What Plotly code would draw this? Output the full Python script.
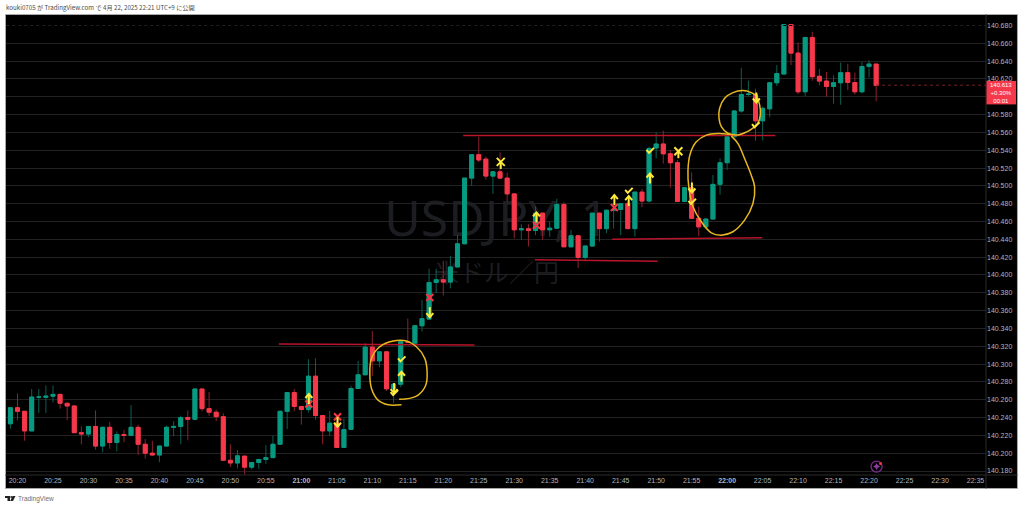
import plotly.graph_objects as go

# minutes after 20:20 for each candle start at -2 (20:18)
first_minute = -2
opens = [140.197,140.233,140.251,140.247,140.225,140.263,140.2627,140.264,140.266,140.256,140.253,140.223,140.2215,140.23,140.208,140.229,140.212,140.221,140.22,140.229,140.21,140.2,140.198,140.208,140.229,140.23,140.24,140.238,140.272,140.25,140.246,140.241,140.192,140.189,
 140.1967,140.1843,140.1895,140.193,140.195,140.21,140.247,140.268,140.2524,140.249,140.2864,140.2423,140.225,140.2337,140.2064,140.2266,140.2726,140.288,140.319,140.3036,140.3137,140.2722,140.2774,140.325,140.3234,140.343,
 140.3505,140.3916,140.3946,140.392,140.409,140.435,140.5087,140.535,140.53,140.511,140.5158,140.5087,140.491,140.4507,140.4518,140.45,140.4694,140.4507,140.4525,140.479,140.4316,140.444,140.4197,140.4325,140.4694,140.452,140.4727,140.4735,140.48,140.452,140.493,140.483,
 140.5425,140.547,140.536,140.526,140.4826,140.498,140.4636,140.454,140.4628,140.5017,140.526,140.555,140.584,140.6026,140.6025,140.573,140.5865,140.6157,140.6255,140.681,140.649,140.6056,140.6666,140.623,140.6176,140.6116,140.6157,140.627,140.616,140.6056,140.634,140.6367]
closes = [140.233,140.251,140.247,140.225,140.263,140.263,140.264,140.266,140.256,140.253,140.223,140.2215,140.23,140.208,140.229,140.212,140.221,140.22,140.229,140.21,140.2,140.198,140.208,140.229,140.23,140.24,140.238,140.272,140.25,140.246,140.241,140.192,140.189,140.197,
 140.1843,140.1895,140.193,140.195,140.21,140.247,140.268,140.2524,140.249,140.2864,140.2423,140.225,140.2337,140.2064,140.2266,140.2726,140.288,140.319,140.3036,140.3137,140.2722,140.2774,140.325,140.3245,140.343,140.351,
 140.3916,140.3946,140.392,140.409,140.435,140.5087,140.535,140.529,140.511,140.5158,140.5087,140.491,140.4507,140.4518,140.45,140.4694,140.4507,140.4525,140.479,140.4316,140.444,140.4197,140.4325,140.4694,140.452,140.4727,140.4735,140.48,140.452,140.493,140.483,140.542,
 140.547,140.536,140.526,140.4826,140.498,140.4636,140.454,140.4628,140.5017,140.526,140.555,140.584,140.6026,140.603,140.573,140.587,140.6157,140.626,140.681,140.649,140.6056,140.6666,140.6225,140.6176,140.6116,140.6157,140.627,140.616,140.6056,140.634,140.6367,140.6127]
highs = [140.233,140.251,140.267,140.247,140.272,140.272,140.276,140.276,140.266,140.256,140.253,140.23,140.23,140.248,140.23,140.235,140.2245,140.226,140.254,140.232,140.216,140.214,140.208,140.231,140.236,140.242,140.248,140.272,140.272,140.2686,140.249,140.245,140.21,140.2035,
 140.1967,140.1895,140.193,140.209,140.2195,140.247,140.268,140.272,140.2524,140.3055,140.3066,140.2423,140.2475,140.236,140.239,140.2756,140.3036,140.3234,140.337,140.3137,140.3137,140.2774,140.327,140.351,140.343,140.372,
 140.407,140.407,140.416,140.4215,140.445,140.5087,140.535,140.555,140.533,140.5158,140.5375,140.515,140.491,140.457,140.457,140.477,140.4694,140.46,140.4855,140.4817,140.4507,140.444,140.4325,140.4694,140.4694,140.4727,140.478,140.48,140.4825,140.493,140.4967,140.544,
 140.56,140.562,140.54,140.529,140.498,140.515,140.4766,140.4628,140.512,140.531,140.556,140.585,140.6325,140.618,140.609,140.589,140.6157,140.6355,140.681,140.681,140.661,140.6666,140.673,140.6314,140.628,140.624,140.6385,140.637,140.627,140.639,140.641,140.6367]
lows = [140.197,140.2275,140.237,140.214,140.225,140.245,140.245,140.257,140.25,140.237,140.223,140.21,140.218,140.204,140.201,140.205,140.202,140.2125,140.22,140.198,140.194,140.197,140.19,140.208,140.219,140.21,140.2145,140.238,140.247,140.242,140.236,140.192,140.1845,140.183,
 140.176,140.1817,140.1824,140.188,140.195,140.21,140.227,140.247,140.232,140.2456,140.2374,140.21,140.2195,140.2064,140.2064,140.2266,140.2726,140.288,140.2868,140.2965,140.27,140.256,140.274,140.324,140.3234,140.3365,
 140.35,140.38,140.377,140.385,140.409,140.4346,140.5,140.5266,140.507,140.491,140.5087,140.4825,140.441,140.4395,140.432,140.4447,140.4395,140.443,140.4525,140.4316,140.4316,140.408,140.417,140.4325,140.4376,140.447,140.452,140.4447,140.452,140.443,140.476,140.4815,
 140.531,140.525,140.498,140.4826,140.4826,140.4636,140.4437,140.452,140.4628,140.49,140.518,140.555,140.582,140.6,140.5507,140.551,140.577,140.612,140.6255,140.6355,140.603,140.6008,140.618,140.6127,140.6,140.592,140.591,140.6075,140.6026,140.604,140.6217,140.595]

tick_minutes = list(range(0, 140, 5))
tick_labels = ["20:20","20:25","20:30","20:35","20:40","20:45","20:50","20:55","<b>21:00</b>","21:05","21:10","21:15","21:20","21:25","21:30","21:35","21:40","21:45","21:50","21:55","<b>22:00</b>","22:05","22:10","22:15","22:20","22:25","22:30","22:35"]

level_a_m = [36.83, 64.4];  level_a_p = [140.3225, 140.3215]
level_b_m = [62.8, 106.8];  level_b_p = [140.5566, 140.5565]
level_c_m = [72.9, 90.2];   level_c_p = [140.417, 140.4155]
level_d_m = [83.8, 104.96]; level_d_p = [140.4402, 140.4417]

ring1_m = [54.11,52.23,50.82,49.88,49.65,49.88,51.06,52.93,54.81,56.22,57.39,57.72,57.54,56.46,55.28,53.78]
ring1_p = [140.2544,140.2544,140.2596,140.2727,140.2896,140.3064,140.3195,140.3258,140.3258,140.3195,140.3064,140.2914,140.2765,140.2652,140.2615,140.2604]
ring2_m = [100.35,98.71,97.07,95.66,94.81,94.48,94.62,95.19,96.36,97.77,99.18,100.82,102.46,103.64,103.87,103.40,102.46,101.53,100.59]
ring2_p = [140.5576,140.5588,140.5569,140.5494,140.5363,140.5176,140.4971,140.4765,140.4597,140.4473,140.4447,140.4485,140.4615,140.4802,140.4989,140.512,140.5307,140.5475,140.5558]
ring3_m = [104.34,103.41,102.23,100.82,99.65,98.94,98.85,99.18,100.11,101.52,102.7,103.63,104.34,104.68,104.58,104.2]
ring3_p = [140.6002,140.6047,140.6069,140.6047,140.5984,140.5872,140.576,140.5665,140.5591,140.5572,140.5603,140.5648,140.5704,140.5797,140.5909,140.6002]

up_m = [41.06,54.11,73.13,84.11,86.13,89.13];  up_p = [140.2608,140.2858,140.4646,140.484,140.4829,140.5083]
down_m = [45.1,53.07,58.1,95.04,104.11];       down_p = [140.2353,140.2731,140.3583,140.4982,140.5992]
check_m = [54.11,86.13,89.13,95.04,104.0,53.07]; check_p = [140.3053,140.4944,140.5393,140.4821,140.5681,140.2675]
yx_m = [68.1,93.13];  yx_p = [140.5269,140.5389]
rx_m = [41.06,45.1,58.1,73.13,84.11]; rx_p = [140.2552,140.2409,140.3748,140.4559,140.4758]

last_price = 140.613
header = "kouki0705 が TradingView.com で 4月 22, 2025 22:21 UTC+9 に公開"

PXM, PXP = 7.1, 892.0
L, R, T, B = 6.0, 986.5, 15.0, 475.5
def px(x): return (x - L) / (R - L)
def py(y): return (B - y) / (B - T)

def glyphs(ms, ps, strokes):
    xs, ys = [], []
    for m, p in zip(ms, ps):
        for stroke in strokes:
            for dx, dy in stroke:
                xs.append(m + dx / PXM); ys.append(p + dy / PXP)
            xs.append(None); ys.append(None)
    return xs, ys

UP = [[(0,-5),(0,4.5)], [(-3.5,1),(0,5),(3.5,1)]]
DOWN = [[(0,5),(0,-4.5)], [(-3.5,-1),(0,-5),(3.5,-1)]]
CHECK = [[(-3.5,1),(-1,-2),(4,3)]]
XS = [[(-3.5,-3.5),(3.5,3.5)], [(-3.5,3.5),(3.5,-3.5)]]
YX = [[(-4,-4),(4,4)], [(-4,4),(4,-4)], [(0,0),(0,-7)]]

minutes = [first_minute + i for i in range(len(opens))]
body_hi = [max(o, c) for o, c in zip(opens, closes)]
body_lo = [min(o, c) for o, c in zip(opens, closes)]
GREEN, RED = "#089981", "#f6384b"

fig = go.Figure()
fig.add_trace(go.Candlestick(x=minutes, open=opens, high=highs, low=lows, close=closes, whiskerwidth=0,
    increasing=dict(line=dict(color="#0b5f52", width=1), fillcolor=GREEN),
    decreasing=dict(line=dict(color="#8d2230", width=1), fillcolor=RED)))
fig.add_trace(go.Candlestick(x=minutes, open=opens, high=body_hi, low=body_lo, close=closes, whiskerwidth=0,
    increasing=dict(line=dict(color=GREEN, width=1), fillcolor=GREEN),
    decreasing=dict(line=dict(color=RED, width=1), fillcolor=RED)))

# dashes over the top grid line
fig.add_trace(go.Scatter(x=[-2, 137], y=[140.68, 140.68], mode="lines", line=dict(color="#000000", width=1, dash="3px,3px")))

for m, p in [(level_a_m, level_a_p), (level_b_m, level_b_p), (level_c_m, level_c_p), (level_d_m, level_d_p)]:
    fig.add_trace(go.Scatter(x=m, y=p, mode="lines", line=dict(color="#b8142a", width=1.5)))
for m, p in [(ring1_m, ring1_p), (ring2_m, ring2_p), (ring3_m, ring3_p)]:
    fig.add_trace(go.Scatter(x=m, y=p, mode="lines", line=dict(color="#e8b820", width=1.5, shape="spline", smoothing=1)))

gx, gy = glyphs(rx_m, rx_p, XS)
fig.add_trace(go.Scatter(x=gx, y=gy, mode="lines", line=dict(color="#f23645", width=2.2)))
for ms, ps, st in [(up_m, up_p, UP), (down_m, down_p, DOWN), (check_m, check_p, CHECK), (yx_m, yx_p, YX)]:
    gx, gy = glyphs(ms, ps, st)
    fig.add_trace(go.Scatter(x=gx, y=gy, mode="lines", line=dict(color="#ffeb3b", width=2)))

# last-price dotted line
fig.add_trace(go.Scatter(x=[minutes[-1], 137], y=[last_price, last_price], mode="lines",
                         line=dict(color="#7a1f2a", width=1, dash="dot")))
# alert icon
fig.add_trace(go.Scatter(x=[121.06], y=[140.185], mode="markers",
                         marker=dict(symbol="circle-open", size=11, color="#7b2a8e", line=dict(width=1.3, color="#7b2a8e"))))
fig.add_trace(go.Scatter(x=[121.06], y=[140.185], mode="markers",
                         marker=dict(symbol="star-diamond", size=5, color="#8e3aa3", line=dict(width=0))))
fig.add_trace(go.Scatter(x=[121.62], y=[140.1885], mode="markers",
                         marker=dict(symbol="circle", size=3, color="#f23645", line=dict(width=0))))

shapes = [
    dict(type="rect", xref="paper", yref="paper", x0=px(5.5), x1=px(1018), y0=py(489), y1=py(14.5),
         fillcolor="#000000", line=dict(color="#a9a9a9", width=1), layer="below"),
    dict(type="line", xref="paper", yref="paper", x0=px(986.5), x1=px(986.5), y0=py(489), y1=py(14.5),
         line=dict(color="#2a2a2a", width=1)),
    dict(type="line", xref="paper", yref="paper", x0=px(5.5), x1=px(1018), y0=py(475.5), y1=py(475.5),
         line=dict(color="#2a2a2a", width=1)),
    dict(type="rect", xref="paper", yref="paper", x0=px(987), x1=px(1016.5), y0=py(104.5), y1=py(81),
         fillcolor="#f6384b", line=dict(width=0)),
    dict(type="rect", xref="x", yref="y", x0=50, x1=85, y0=140.437, y1=140.487, layer="below",
         fillcolor="rgba(0,0,0,0)", line=dict(width=0),
         label=dict(text="USDJPY, 1", textposition="middle center",
                    font=dict(family="Noto Sans", size=50, color="#1b1d21"))),
    dict(type="rect", xref="x", yref="y", x0=55, x1=80, y0=140.38, y1=140.42, layer="below",
         fillcolor="rgba(0,0,0,0)", line=dict(width=0),
         label=dict(text="米ドル／円", textposition="middle center",
                    font=dict(family="Noto Sans CJK JP", size=25, color="#1b1d21"))),
    # TradingView mark
    dict(type="path", xref="paper", yref="paper", line=dict(width=0), fillcolor="#222222",
         path=f"M {px(5)} {py(496.5)} L {px(10)} {py(496.5)} L {px(10)} {py(501.5)} L {px(7.5)} {py(501.5)} L {px(7.5)} {py(498.5)} L {px(5)} {py(498.5)} Z"),
    dict(type="path", xref="paper", yref="paper", line=dict(width=0), fillcolor="#222222",
         path=f"M {px(12.5)} {py(496.5)} L {px(15.5)} {py(496.5)} L {px(13)} {py(501.5)} L {px(10.2)} {py(501.5)} Z"),
    dict(type="circle", xref="paper", yref="paper", line=dict(width=0), fillcolor="#222222",
         x0=px(10.3), x1=px(12.1), y0=py(498.4), y1=py(496.5)),
]

def note(x, y, text, size, color, anchor="left", family="Liberation Sans"):
    return dict(xref="paper", yref="paper", x=px(x), y=py(y), text=text, showarrow=False, xanchor=anchor,
                yanchor="middle", borderpad=0, font=dict(family=family, size=size, color=color))

annotations = [
    note(4.5, 7, header, 6.2, "#4a4a4a", family="Noto Sans CJK JP"),
    note(17, 499.5, "TradingView", 6.5, "#6e6e6e"),
    note(1002, 93, f"{last_price:.3f}<br>+0.30%<br>00:01", 6, "#ffffff", "center"),
]

fig.update_layout(
    width=1024, height=508, autosize=False, showlegend=False, boxgap=0.2,
    margin=dict(l=L, r=1024 - R, t=T, b=508 - B, pad=0),
    paper_bgcolor="#ffffff", plot_bgcolor="#000000",
    shapes=shapes, annotations=annotations,
    xaxis=dict(range=[(L - 17.5) / PXM, (R - 17.5) / PXM], rangeslider=dict(visible=False), showgrid=False,
               zeroline=False, showline=False, tickmode="array", tickvals=tick_minutes, ticktext=tick_labels,
               ticks="", tickfont=dict(family="Liberation Sans", size=7, color="#b2b5be"), tickangle=0),
    yaxis=dict(range=[140.18 - (B - 471.5) / PXP, 140.18 + (471.5 - T) / PXP], side="right", tickmode="linear",
               tick0=140.18, dtick=0.02, tickformat=".3f", showgrid=True, gridcolor="#222222", gridwidth=1,
               zeroline=False, showline=False, ticks="", tickfont=dict(family="Liberation Sans", size=7, color="#b2b5be")),
)
fig.write_html("out.html", config=dict(displayModeBar=False),
               post_script="document.body.style.margin='0';document.body.style.overflow='hidden';")
